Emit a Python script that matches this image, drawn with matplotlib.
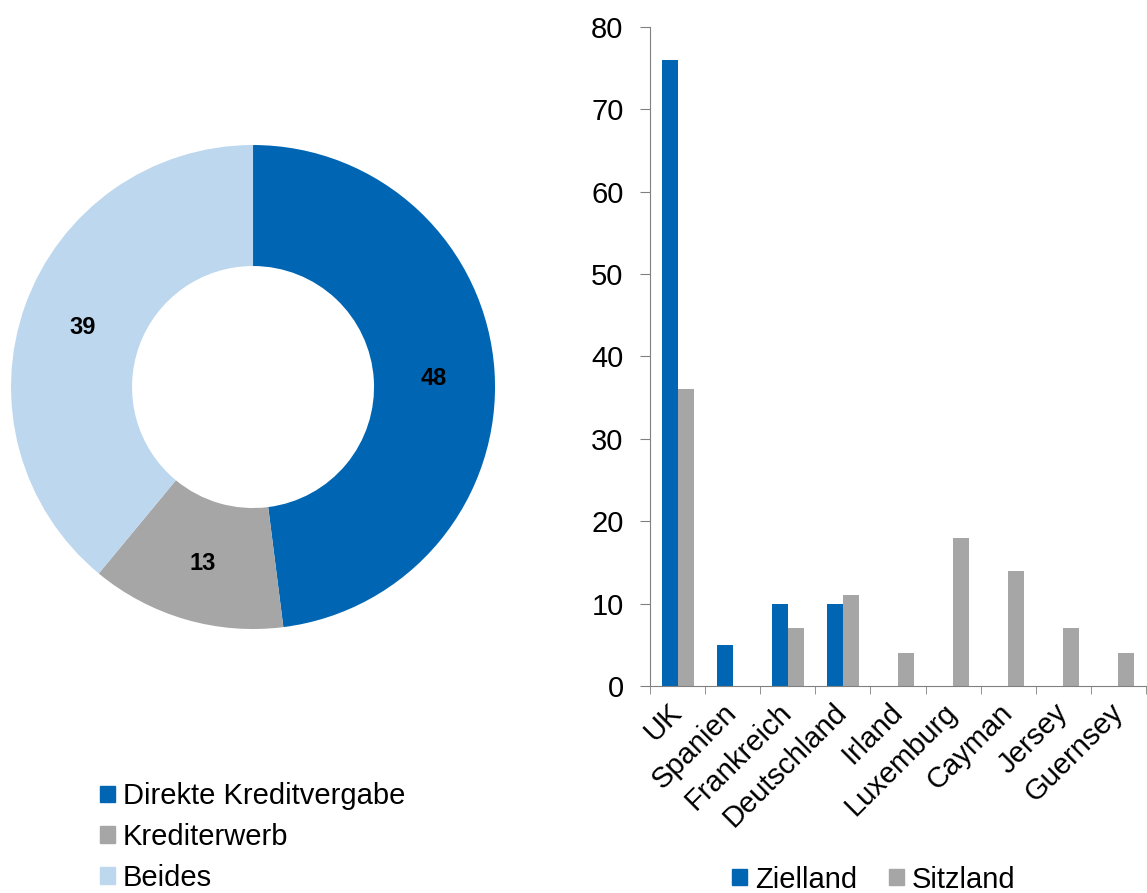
import numpy as np
import matplotlib.pyplot as plt
from matplotlib.patches import Patch

plt.rcParams['font.family'] = ['Liberation Sans', 'DejaVu Sans']

# donut data
pie_labels = ['Direkte Kreditvergabe', 'Krediterwerb', 'Beides']
pie_values = [48, 13, 39]
pie_colors = ['#0066B3', '#A6A6A6', '#BDD7EE']

# bar data
countries = ['UK', 'Spanien', 'Frankreich', 'Deutschland', 'Irland',
             'Luxemburg', 'Cayman', 'Jersey', 'Guernsey']
zielland = [76, 5, 10, 10, 0, 0, 0, 0, 0]
sitzland = [36, 0, 7, 11, 4, 18, 14, 7, 4]

fig = plt.figure(figsize=(11.47, 8.93), dpi=100)

# donut
ax1 = fig.add_axes([0.0096, 0.2956, 0.422, 0.542])
wedges, _ = ax1.pie(pie_values, colors=pie_colors, startangle=90, counterclock=False,
                    radius=1, wedgeprops=dict(width=0.5, linewidth=0))
for w, v in zip(wedges, pie_values):
    ang = np.deg2rad((w.theta1 + w.theta2) / 2)
    ax1.text(0.75 * np.cos(ang), 0.75 * np.sin(ang) - 0.01, str(v), ha='center', va='center',
             fontsize=17, fontweight='bold', color='black')
ax1.set_xlim(-1, 1)
ax1.set_ylim(-1, 1)
ax1.set_aspect('equal')

fig.legend(handles=[Patch(color=c, label=l) for c, l in zip(pie_colors, pie_labels)],
           loc='upper left', bbox_to_anchor=(0.0875, 0.124), frameon=False,
           fontsize=21, handlelength=0.5, handleheight=0.5, handletextpad=0.28,
           labelspacing=0.44, borderaxespad=0, borderpad=0)

# bars
ax2 = fig.add_axes([0.5667, 0.2318, 0.4324, 0.738])
x = np.arange(len(countries))
bw = 0.29
ax2.bar(x - bw / 2, zielland, bw, color='#0066B3', label='Zielland')
ax2.bar(x + bw / 2, sitzland, bw, color='#A6A6A6', label='Sitzland')
ax2.set_xlim(-0.5, len(countries) - 0.5)
ax2.set_ylim(0, 80)
ax2.set_yticks(range(0, 81, 10))
ax2.set_xticks(x)
ax2.set_xticklabels(countries, rotation=45, ha='right', va='center', rotation_mode='anchor')
ax2.set_xticks(np.arange(-0.5, len(countries), 1), minor=True)
ax2.tick_params(axis='x', which='major', length=0, labelsize=21, pad=16)
ax2.tick_params(axis='x', which='minor', length=6, color='#808080', direction='out')
ax2.tick_params(axis='y', labelsize=21, length=7, color='#808080', pad=12)
for s in ['top', 'right']:
    ax2.spines[s].set_visible(False)
for s in ['left', 'bottom']:
    ax2.spines[s].set_color('#808080')

fig.legend(handles=[Patch(color='#0066B3', label='Zielland'), Patch(color='#A6A6A6', label='Sitzland')],
           loc='lower center', bbox_to_anchor=(0.762, -0.03), ncol=2, frameon=False,
           fontsize=21, handlelength=0.5, handleheight=0.5, handletextpad=0.28,
           columnspacing=1.1)

fig.savefig('out.png', dpi=100)
